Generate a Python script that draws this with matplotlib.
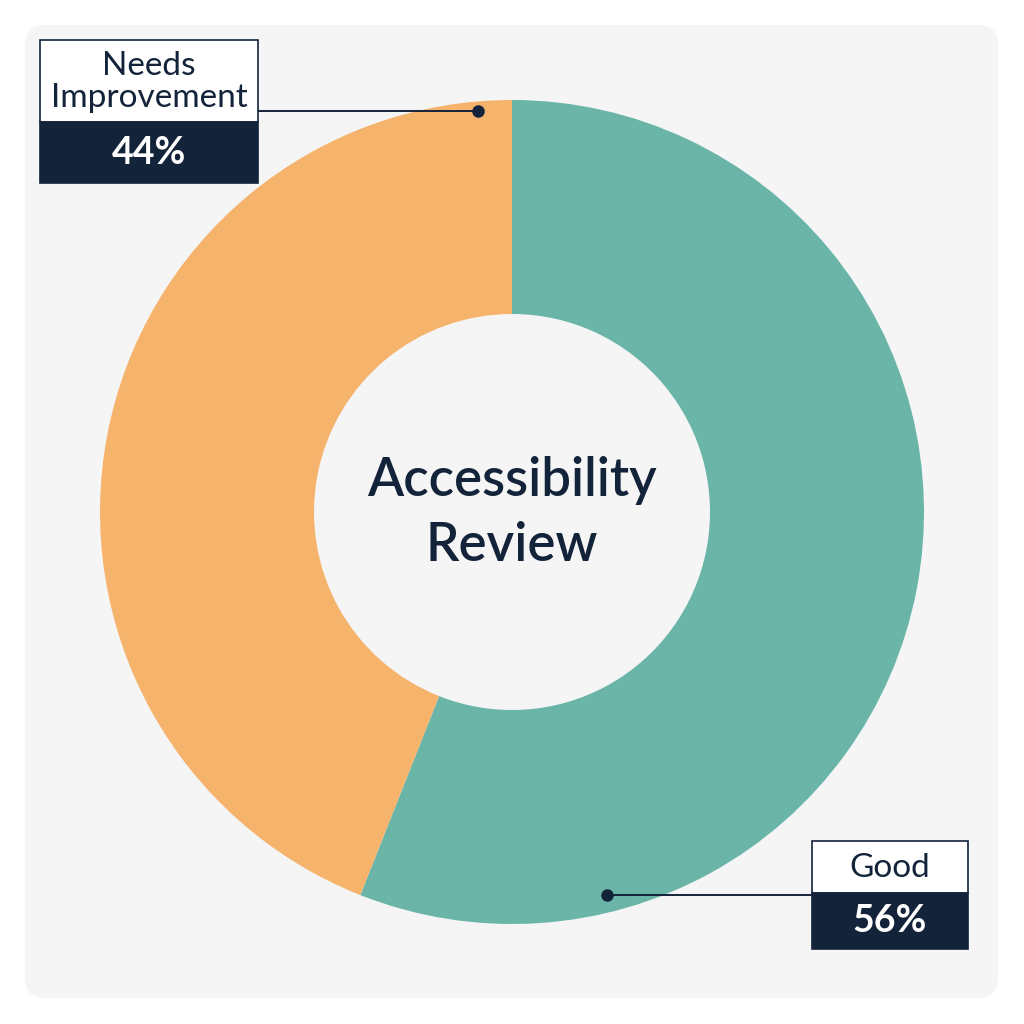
import numpy as np
import matplotlib.pyplot as plt
from matplotlib.patches import FancyBboxPatch, Rectangle

# data
labels = ["Good", "Needs Improvement"]
values = [56, 44]
pct_labels = ["56%", "44%"]
box_labels = ["Good", "Needs\nImprovement"]
colors = ["#6ab5a8", "#f5b36c"]
title = "Accessibility\nReview"

navy = "#13233a"
bg = "#f5f5f5"
W = 1024

plt.rcParams['font.family'] = ['Lato', 'DejaVu Sans']

fig = plt.figure(figsize=(10.24, 10.24), dpi=100)
fig.patch.set_facecolor("white")
ax = fig.add_axes([0, 0, 1, 1])
ax.set_xlim(0, W)
ax.set_ylim(0, W)
ax.set_aspect("equal")
ax.axis("off")

def fy(y):
    # pixel row (top-down) to data y
    return W - y

# card background
ax.add_patch(FancyBboxPatch((25 + 20, fy(998) + 20), 973 - 40, 973 - 40,
                            boxstyle="round,pad=20", fc=bg, ec="none", zorder=0))

# donut
ax.pie(values, colors=colors, startangle=90, counterclock=False,
       center=(512, 512), radius=412, frame=True,
       wedgeprops=dict(width=214, edgecolor="none"))
ax.set_xlim(0, W)
ax.set_ylim(0, W)
ax.axis("off")

ax.text(512, fy(513), title, ha="center", va="center", fontsize=38,
        fontweight="semibold", color=navy, linespacing=1.42)

# callout boxes: (x0, x1, top, split, bottom, dot x, line y)
boxes = [
    (812, 968, 841, 893, 949, 607, 895),
    (40, 258, 40, 122, 183, 478, 111),
]

for i, (x0, x1, top, mid, bot, dx, ly) in enumerate(boxes):
    w = x1 - x0
    ax.add_patch(Rectangle((x0, fy(mid)), w, mid - top, fc="white",
                           ec=navy, lw=1.2, zorder=3))
    ax.add_patch(Rectangle((x0, fy(bot)), w, bot - mid, fc=navy,
                           ec=navy, lw=1.2, zorder=3))
    ax.text((x0 + x1) / 2, fy((top + mid) / 2 + 1), box_labels[i], ha="center",
            va="center", fontsize=24, color=navy, linespacing=1.12, zorder=4)
    ax.text((x0 + x1) / 2, fy((mid + bot) / 2), pct_labels[i], ha="center",
            va="center", fontsize=27, fontweight="bold", color="white", zorder=4)
    edge = x0 if dx < x0 else x1
    ax.plot([dx, edge], [fy(ly), fy(ly)], color=navy, lw=1.4, zorder=2)
    ax.plot(dx, fy(ly), "o", color=navy, ms=8, zorder=5)

fig.savefig("out.png", dpi=100, facecolor="white")
